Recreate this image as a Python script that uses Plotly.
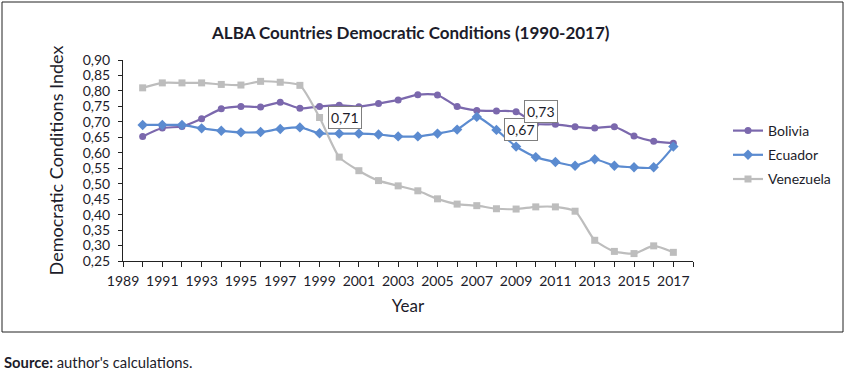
import plotly.graph_objects as go

years = list(range(1990, 2018))
bolivia = [0.653, 0.680, 0.685, 0.710, 0.742, 0.750, 0.748, 0.763, 0.744, 0.750,
           0.754, 0.749, 0.759, 0.771, 0.788, 0.787, 0.750, 0.737, 0.735, 0.733,
           0.694, 0.692, 0.684, 0.680, 0.684, 0.654, 0.637, 0.631]
ecuador = [0.690, 0.690, 0.690, 0.679, 0.671, 0.666, 0.667, 0.677, 0.682, 0.663,
           0.662, 0.662, 0.659, 0.653, 0.653, 0.662, 0.675, 0.716, 0.674, 0.620,
           0.586, 0.570, 0.558, 0.579, 0.558, 0.553, 0.553, 0.620]
venezuela = [0.810, 0.826, 0.826, 0.826, 0.821, 0.819, 0.831, 0.828, 0.818, 0.714,
             0.586, 0.542, 0.510, 0.493, 0.477, 0.451, 0.434, 0.429, 0.419, 0.418,
             0.425, 0.425, 0.411, 0.317, 0.281, 0.274, 0.299, 0.278]
series_names = ["Bolivia", "Ecuador", "Venezuela"]
x_tick_years = list(range(1989, 2018, 2))
y_ticks = [0.25, 0.30, 0.35, 0.40, 0.45, 0.50, 0.55, 0.60, 0.65, 0.70, 0.75, 0.80, 0.85, 0.90]
# data labels shown on the chart: (series, year)
labelled = [("Venezuela", 1999), ("Ecuador", 2008), ("Bolivia", 2009)]

FONT = "Lato"
TXT = "#1c1c2a"
colors = {"Bolivia": "#7b68ad", "Ecuador": "#5b8bd0", "Venezuela": "#bdbdbd"}
symbols = {"Bolivia": "circle", "Ecuador": "diamond", "Venezuela": "square"}
sizes = {"Bolivia": 7, "Ecuador": 8, "Venezuela": 7}
data = {"Bolivia": bolivia, "Ecuador": ecuador, "Venezuela": venezuela}

W, H = 846, 370
L, R, T, B = 123, 693, 60, 261
def fx(xp):
    return xp / W
def fy(yp):
    return 1 - yp / H

fig = go.Figure()
for name in series_names:
    fig.add_trace(go.Scatter(
        x=years, y=data[name], name=name, mode="lines+markers",
        legendgroup=name,
        line=dict(color=colors[name], width=2.2, shape="spline", smoothing=0.6),
        marker=dict(symbol=symbols[name], size=sizes[name], color=colors[name]),
    ))

for name, yr in labelled:
    v = data[name][years.index(yr)]
    fig.add_annotation(
        x=yr, y=v, xref="x", yref="y",
        text=f"{v:.2f}".replace(".", ","),
        showarrow=False, xanchor="left", yanchor="middle", xshift=8,
        font=dict(family=FONT, size=14, color=TXT),
        bgcolor="white", bordercolor="#7f7f7f", borderwidth=1, borderpad=2,
    )

# outer chart border
fig.add_shape(type="rect", xref="paper", yref="paper",
              x0=fx(2), x1=fx(843), y0=fy(332), y1=fy(2),
              line=dict(color="#222222", width=1), layer="below")

fig.add_annotation(xref="paper", yref="paper", x=fx(410), y=fy(32),
                   text="<b>ALBA Countries Democratic Conditions (1990-2017)</b>",
                   showarrow=False, xanchor="center", yanchor="middle",
                   font=dict(family=FONT, size=17, color=TXT))
fig.add_annotation(xref="paper", yref="paper", x=fx(2), y=fy(362),
                   text="<b>Source:</b> author's calculations.",
                   showarrow=False, xanchor="left", yanchor="middle",
                   font=dict(family=FONT, size=14.8, color=TXT))

fig.update_layout(
    width=W, height=H,
    margin=dict(l=0, r=0, t=0, b=0),
    paper_bgcolor="white", plot_bgcolor="white",
    separators=", ",
    font=dict(family=FONT, color=TXT),
    showlegend=True,
    legend=dict(x=fx(728), y=fy(115), xanchor="left", yanchor="top",
                font=dict(family=FONT, size=14, color=TXT),
                tracegroupgap=3, itemwidth=30, bgcolor="rgba(0,0,0,0)"),
    xaxis=dict(domain=[L / W, R / W], automargin=False,
               range=[1989, 2018], tickmode="array", tickvals=x_tick_years,
               ticktext=[str(v) for v in x_tick_years],
               minor=dict(dtick=1, tick0=1989, ticks="outside", ticklen=5, tickcolor="#222"),
               ticks="outside", ticklen=5, tickcolor="#222", ticklabelstandoff=2,
               showline=True, linecolor="#222", linewidth=1, showgrid=False, zeroline=False,
               tickfont=dict(family=FONT, size=14, color=TXT),
               title=dict(text="Year", font=dict(family=FONT, size=17, color=TXT), standoff=12)),
    yaxis=dict(domain=[1 - B / H, 1 - T / H], automargin=False,
               range=[0.25, 0.90], tickmode="array", tickvals=y_ticks, tickformat=".2f",
               ticks="outside", ticklen=4, tickcolor="#222", ticklabelstandoff=5,
               showline=True, linecolor="#222", linewidth=1, showgrid=False, zeroline=False,
               tickfont=dict(family=FONT, size=14, color=TXT),
               title=dict(text="Democratic Conditions Index",
                          font=dict(family=FONT, size=18, color=TXT), standoff=14)),
)

fig.write_html("out.html", config={"displayModeBar": False},
               post_script="document.body.style.margin='0';")
